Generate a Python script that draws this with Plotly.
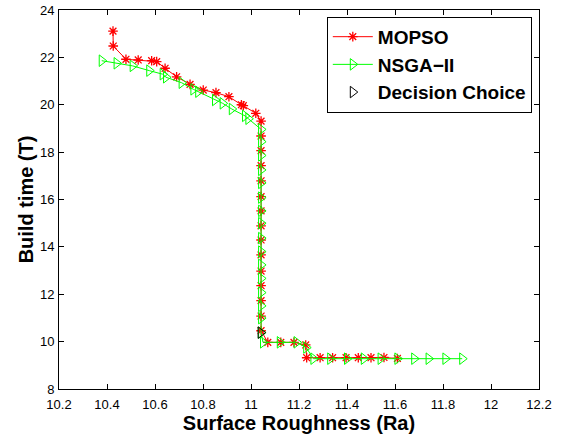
import plotly.graph_objects as go

# MOPSO front
mopso_x = [10.425, 10.426, 10.479, 10.530, 10.586, 10.607, 10.642, 10.690, 10.746, 10.801,
           10.854, 10.908, 10.960, 10.968, 11.020, 11.042,
           11.042, 11.042, 11.042, 11.042, 11.042, 11.042, 11.042, 11.042,
           11.042, 11.042, 11.042, 11.042, 11.042, 11.042,
           11.070, 11.124, 11.179, 11.228, 11.232, 11.288, 11.340, 11.396, 11.447,
           11.500, 11.554, 11.610]
mopso_y = [23.11, 22.48, 21.92, 21.89, 21.86, 21.82, 21.54, 21.18, 20.86, 20.62,
           20.51, 20.34, 20.00, 19.96, 19.64, 19.31,
           18.68, 18.06, 17.43, 16.79, 16.12, 15.52, 14.89, 14.29,
           13.66, 12.98, 12.36, 11.73, 11.08, 10.46,
           9.97, 9.97, 9.97, 9.86, 9.32, 9.32, 9.32, 9.32, 9.32,
           9.32, 9.33, 9.29]

# NSGA-II front
nsga_x = [10.378, 10.440, 10.507, 10.576, 10.632, 10.646, 10.711, 10.760, 10.780, 10.850,
          10.882, 10.920, 10.975, 10.989,
          11.042, 11.042, 11.042, 11.042, 11.042, 11.042, 11.042, 11.042, 11.042,
          11.042, 11.042, 11.042, 11.042, 11.042, 11.042, 11.042,
          11.050, 11.120, 11.190, 11.230, 11.260, 11.330, 11.400, 11.470, 11.540,
          11.610, 11.680, 11.740, 11.810, 11.880]
nsga_y = [21.86, 21.75, 21.64, 21.44, 21.29, 21.16, 20.93, 20.65, 20.55, 20.20,
          20.06, 19.82, 19.53, 19.41,
          18.96, 18.44, 17.86, 17.25, 16.70, 16.08, 15.52, 15.00, 14.37,
          13.80, 13.24, 12.67, 12.07, 11.51, 10.99, 10.38,
          9.97, 9.97, 9.97, 9.75, 9.28, 9.28, 9.28, 9.28, 9.28,
          9.28, 9.28, 9.28, 9.28, 9.28]

# Decision choice
choice_x = [11.040]
choice_y = [10.38]

x_ticks = [10.2, 10.4, 10.6, 10.8, 11, 11.2, 11.4, 11.6, 11.8, 12, 12.2]
x_tick_labels = ["10.2", "10.4", "10.6", "10.8", "11", "11.2", "11.4", "11.6", "11.8", "12", "12.2"]
y_ticks = [8, 10, 12, 14, 16, 18, 20, 22, 24]

FONT = "Arial, Liberation Sans, sans-serif"

fig = go.Figure()
fig.add_trace(go.Scatter(
    x=mopso_x, y=mopso_y, mode="lines+markers", name="<b>MOPSO</b>",
    line=dict(color="#ff0000", width=1),
    marker=dict(symbol="asterisk-open", size=8, color="#ff0000",
                line=dict(color="#ff0000", width=1.3)),
))
fig.add_trace(go.Scatter(
    x=nsga_x, y=nsga_y, mode="lines+markers", name="<b>NSGA\u2212II</b>",
    line=dict(color="#00ff00", width=1),
    marker=dict(symbol="triangle-right-open", size=10, color="#00ff00",
                line=dict(color="#00ff00", width=1)),
))
fig.add_trace(go.Scatter(
    x=choice_x, y=choice_y, mode="markers", name="<b>Decision Choice</b>",
    marker=dict(symbol="triangle-right-open", size=10, color="#000000",
                line=dict(color="#000000", width=1)),
))

axis_common = dict(
    showgrid=False, zeroline=False, showline=True, linecolor="black", linewidth=1,
    mirror="ticks", ticks="inside", ticklen=5, tickcolor="black", tickwidth=1,
    tickfont=dict(family=FONT, size=13, color="black"), automargin=False,
)
fig.update_xaxes(range=[10.2, 12.2], tickvals=x_ticks, ticktext=x_tick_labels,
                 ticklabelstandoff=3,
                 title=dict(text="<b>Surface Roughness (Ra)</b>",
                            font=dict(family=FONT, size=20, color="black"), standoff=2),
                 **axis_common)
fig.update_yaxes(range=[8, 24], tickvals=y_ticks, ticklabelstandoff=1,
                 title=dict(text="<b>Build time (T)</b>",
                            font=dict(family=FONT, size=20, color="black"), standoff=0),
                 **axis_common)

fig.update_layout(
    width=572, height=434,
    margin=dict(l=59, r=33, t=10, b=45),
    paper_bgcolor="white", plot_bgcolor="white",
    showlegend=True,
    legend=dict(x=0.985, y=0.982, xanchor="right", yanchor="top",
                bgcolor="white", bordercolor="black", borderwidth=1,
                font=dict(family=FONT, size=19, color="black"),
                tracegroupgap=0, itemwidth=40),
)

fig.write_html("out.html")
